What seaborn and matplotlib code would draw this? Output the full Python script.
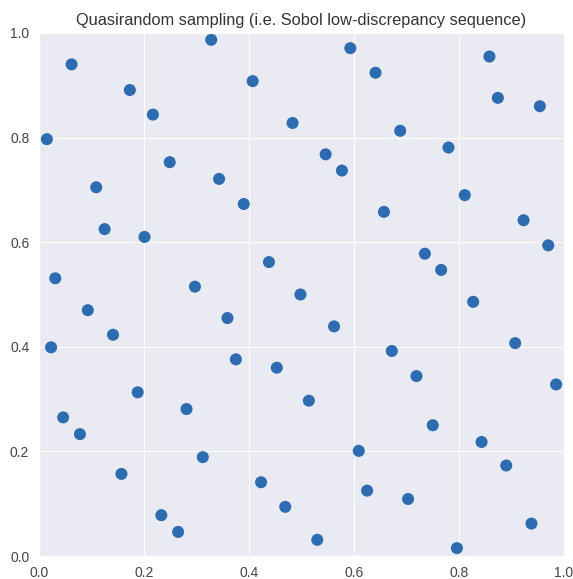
import numpy as np
import pandas as pd
import matplotlib
matplotlib.use("Agg")
import matplotlib.pyplot as plt
import seaborn as sns

# points (64 Sobol samples)
x_vals = [0.062, 0.328, 0.173, 0.407, 0.217, 0.483, 0.015, 0.249,
          0.343, 0.109, 0.390, 0.125, 0.201, 0.438, 0.031, 0.297,
          0.593, 0.858, 0.641, 0.874, 0.954, 0.688, 0.546, 0.780,
          0.577, 0.811, 0.657, 0.923, 0.970, 0.735, 0.766, 0.498,
          0.093, 0.359, 0.141, 0.023, 0.375, 0.453, 0.188, 0.281,
          0.046, 0.078, 0.312, 0.157, 0.423, 0.469, 0.233, 0.265,
          0.827, 0.562, 0.907, 0.672, 0.719, 0.985, 0.514, 0.750,
          0.843, 0.609, 0.890, 0.625, 0.703, 0.938, 0.530, 0.796]
y_vals = [0.940, 0.987, 0.891, 0.908, 0.844, 0.828, 0.797, 0.753,
          0.721, 0.705, 0.673, 0.625, 0.610, 0.562, 0.531, 0.515,
          0.971, 0.955, 0.924, 0.876, 0.860, 0.813, 0.768, 0.781,
          0.737, 0.690, 0.658, 0.642, 0.594, 0.578, 0.547, 0.500,
          0.470, 0.455, 0.423, 0.399, 0.376, 0.360, 0.313, 0.281,
          0.265, 0.233, 0.189, 0.157, 0.141, 0.094, 0.078, 0.046,
          0.486, 0.439, 0.407, 0.392, 0.344, 0.328, 0.297, 0.250,
          0.218, 0.201, 0.173, 0.125, 0.109, 0.062, 0.031, 0.015]

df = pd.DataFrame({"x": x_vals, "y": y_vals})

sns.set_style("darkgrid")
plt.rcParams["font.family"] = ["Liberation Sans", "DejaVu Sans"]

fig = plt.figure(figsize=(5.73, 5.79), dpi=100)
ax = fig.add_axes([39 / 573, 23 / 579, 525 / 573, 523 / 579])

sns.scatterplot(data=df, x="x", y="y", ax=ax, s=75, color="#2b6cb3",
                edgecolor="none")
ax.set_xlim(0, 1)
ax.set_ylim(0, 1)
ax.set_xlabel("")
ax.set_ylabel("")
ax.tick_params(labelsize=10, colors="#444444")
ax.set_title("Quasirandom sampling (i.e. Sobol low-discrepancy sequence)",
             fontsize=11.8, color="#333333")

fig.savefig("out.png", dpi=100)
